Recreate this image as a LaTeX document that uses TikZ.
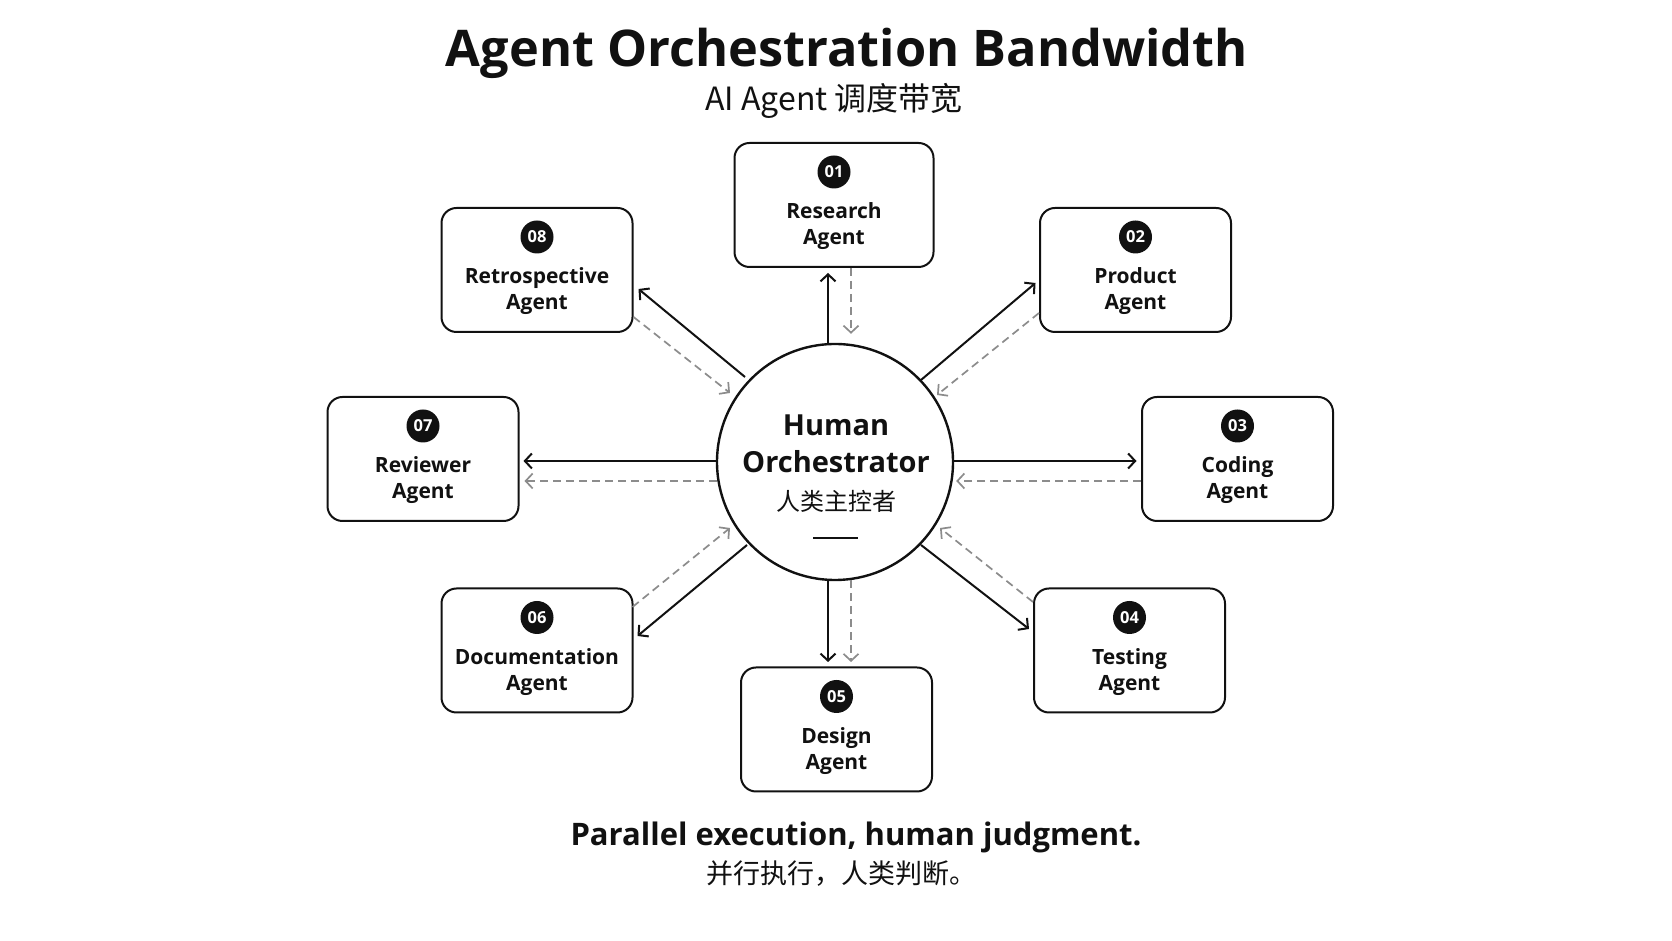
\documentclass[tikz,border=0pt]{standalone}
\usepackage{fontspec}
\setmainfont{Open Sans}
\newfontfamily\cjk{Noto Sans CJK SC}
\usetikzlibrary{arrows.meta,calc}
\definecolor{ink}{HTML}{111111}
\definecolor{dashgray}{HTML}{8C8C8C}
\tikzset{
  agentbox/.style={draw=ink, line width=2pt, rounded corners=15pt, minimum width=191pt, minimum height=124pt, inner sep=0pt, fill=white},
  hubnode/.style={circle, draw=ink, line width=2.4pt, minimum size=236pt, inner sep=0pt, fill=white},
  badge/.style={circle, fill=ink, minimum size=33pt, inner sep=0pt, text=white, font=\bfseries\fontsize{16.5}{16.5}\selectfont},
  agenttext/.style={anchor=base, text=ink, inner sep=0pt, font=\bfseries\fontsize{21}{22}\selectfont},
  outarrow/.style={draw=ink, line width=2pt, -{Straight Barb[length=7pt,width=15pt]}},
  backarrow/.style={draw=dashgray, line width=1.7pt, dash pattern=on 8pt off 5pt, -{Straight Barb[length=7pt,width=15pt]}},
}
\newcommand\agentnode[6]{%
  \node[agentbox, minimum width=#6] (#1) at (#2) {};
  \node[badge] (#1b) at ($(#1.center)+(0,33)$) {#3};
  \node[agenttext] (#1t) at ($(#1.center)+(0,-14)$) {#4};
  \node[agenttext] (#1s) at ($(#1.center)+(0,-40)$) {#5};
}
\begin{document}
\begin{tikzpicture}[x=1pt,y=1pt]
\useasboundingbox (0,0) rectangle (1672,941);
\fill[white] (0,0) rectangle (1672,941);

% titles
\node[anchor=base, inner sep=0pt, text=ink, font=\bfseries\fontsize{50.5}{50.5}\selectfont] (title) at (847,874) {Agent Orchestration Bandwidth};
\node[anchor=base, inner sep=0pt, text=ink, font=\cjk\fontsize{32}{32}\selectfont] (subtitle) at (834,830) {AI Agent 调度带宽};

% hub
\node[hubnode] (hub) at (835,479) {};
\node[anchor=base, inner sep=0pt, text=ink, font=\bfseries\fontsize{29}{29}\selectfont] (hubl1) at (836,505) {Human};
\node[anchor=base, inner sep=0pt, text=ink, font=\bfseries\fontsize{29}{29}\selectfont] (hubl2) at (836,468) {Orchestrator};
\node[inner sep=0pt, text=ink, font=\cjk\fontsize{24}{24}\selectfont] (hubl3) at (836,440) {人类主控者};
\draw[ink, line width=1.5pt] (813,403) -- (858,403);

% agents
\agentnode{a01}{834,736}{01}{Research}{Agent}{199pt}
\agentnode{a02}{1135.5,671}{02}{Product}{Agent}{191pt}
\agentnode{a03}{1237.5,482}{03}{Coding}{Agent}{191pt}
\agentnode{a04}{1129.5,290.5}{04}{Testing}{Agent}{191pt}
\agentnode{a05}{836.5,211.5}{05}{Design}{Agent}{191pt}
\agentnode{a06}{537,290.5}{06}{Documentation}{Agent}{191pt}
\agentnode{a07}{423,482}{07}{Reviewer}{Agent}{191pt}
\agentnode{a08}{537,671}{08}{Retrospective}{Agent}{191pt}

% connectors
\draw[outarrow] ($(hub.north)+(-7,0)$) -- ($(a01.south)+(-6,-5)$);
\draw[backarrow] ($(a01.south)+(17,0)$) -- ($(hub.north)+(16,9)$);
\draw[outarrow] ($(hub.center)+(86,82)$) -- ($(a02.west)+(-3.5,-13)$);
\draw[backarrow] ($(a02.west)+(0,-43)$) -- ($(hub.center)+(102,67)$);
\draw[outarrow] ($(hub.east)+(0,1)$) -- ($(a03.west)+(-4.5,-2)$);
\draw[backarrow] ($(a03.west)+(0,-22)$) -- ($(hub.east)+(2,-19)$);
\draw[outarrow] ($(hub.center)+(86,-83)$) -- ($(a04.west)+(-4,21.5)$);
\draw[backarrow] ($(a04.west)+(0,48.5)$) -- ($(hub.center)+(105,-66)$);
\draw[outarrow] ($(hub.south)+(-7,0)$) -- ($(a05.north)+(-8.5,4.5)$);
\draw[backarrow] ($(hub.south)+(16,1)$) -- ($(a05.north)+(14.5,4.5)$);
\draw[outarrow] ($(hub.center)+(-88,-83)$) -- ($(a06.east)+(4,14.5)$);
\draw[backarrow] ($(a06.east)+(-1,43.5)$) -- ($(hub.center)+(-105,-66)$);
\draw[outarrow] ($(hub.west)+(0,1)$) -- ($(a07.east)+(4,-2)$);
\draw[backarrow] ($(hub.west)+(1,-19)$) -- ($(a07.east)+(5,-22)$);
\draw[outarrow] ($(hub.center)+(-90,85)$) -- ($(a08.east)+(5,-19)$);
\draw[backarrow] ($(a08.east)+(0,-47)$) -- ($(hub.center)+(-105,69)$);

% tagline
\node[anchor=base, inner sep=0pt, text=ink, font=\bfseries\fontsize{31}{31}\selectfont] (tagline) at (856,95) {Parallel execution, human judgment.};
\node[inner sep=0pt, text=ink, font=\cjk\fontsize{27}{27}\selectfont] (tagcn) at (841,67) {并行执行，人类判断。};
\end{tikzpicture}
\end{document}
